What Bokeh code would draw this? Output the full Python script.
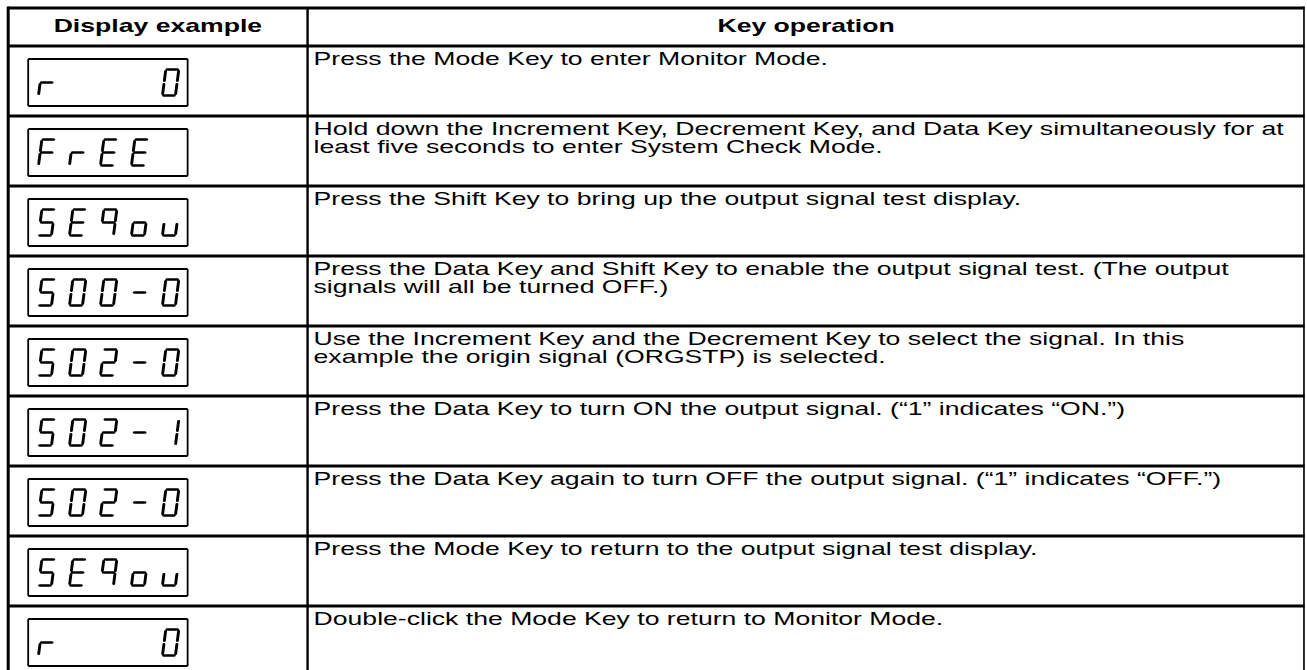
from bokeh.plotting import figure
from bokeh.models import Range1d, InlineStyleSheet
from bokeh.core.properties import value
from bokeh.embed import file_html
from bokeh.resources import INLINE

# ---------------- data ----------------
headers = ["Display example", "Key operation"]

displays = ["r   0", "FrEE ", "SE9ou", "S00-0", "S02-0", "S02-1", "S02-0", "SE9ou", "r   0"]

key_operations = [
    ["Press the Mode Key to enter Monitor Mode."],
    ["Hold down the Increment Key, Decrement Key, and Data Key simultaneously for at",
     "least five seconds to enter System Check Mode."],
    ["Press the Shift Key to bring up the output signal test display."],
    ["Press the Data Key and Shift Key to enable the output signal test. (The output",
     "signals will all be turned OFF.)"],
    ["Use the Increment Key and the Decrement Key to select the signal. In this",
     "example the origin signal (ORGSTP) is selected."],
    ["Press the Data Key to turn ON the output signal. (\u201c1\u201d indicates \u201cON.\u201d)"],
    ["Press the Data Key again to turn OFF the output signal. (\u201c1\u201d indicates \u201cOFF.\u201d)"],
    ["Press the Mode Key to return to the output signal test display."],
    ["Double-click the Mode Key to return to Monitor Mode."],
]

# seven-segment codes for the characters of the display
seg_codes = {
    "0": "abcdef", "1": "bc", "2": "abged", "5": "afgcd", "S": "afgcd",
    "9": "abcfg", "E": "afged", "F": "afeg", "r": "eg", "o": "cdeg",
    "u": "cde", "-": "g", " ": "",
}

# ---------------- layout ----------------
# The reference is a horizontally stretched scan; the figure is widened
# with a CSS scaleX so the text gets the same wide look.
STRETCH = 1.4
FIG_W = 666
VIS_W = FIG_W * STRETCH * STRETCH
X_LEFT, X_DIV, X_RIGHT = 7.5, 307, 1304.5
Y_TOP, Y_HEAD = 7.5, 45.5
ROW_H = 70
FONT = value("Liberation Sans")

p = figure(width=FIG_W, height=670, output_backend="svg", toolbar_location=None,
           x_range=Range1d(0, VIS_W), y_range=Range1d(start=670, end=0),
           min_border=0)
p.axis.visible = False
p.grid.visible = False
p.outline_line_color = None
p.background_fill_color = "white"
p.border_fill_color = "white"
p.stylesheets = [InlineStyleSheet(
    css=":host { transform: scaleX(%.4f); transform-origin: 0 0; }" % STRETCH)]

n = len(displays)
row_tops = [Y_HEAD + i * ROW_H for i in range(n)]
bottom = Y_HEAD + n * ROW_H

# table lines (horizontal)
p.segment(x0=[X_LEFT], y0=[Y_TOP], x1=[X_RIGHT], y1=[Y_TOP], line_width=3, line_color="black")
hy = [t for t in row_tops]
p.segment(x0=[X_LEFT] * len(hy), y0=hy, x1=[X_RIGHT] * len(hy), y1=hy, line_width=3, line_color="black")
# table lines (vertical) - thinner because of the horizontal stretch
p.segment(x0=[X_LEFT, X_RIGHT], y0=[Y_TOP - 1.5] * 2, x1=[X_LEFT, X_RIGHT], y1=[bottom] * 2,
          line_width=3.0 / STRETCH, line_color="black")
p.segment(x0=[X_DIV], y0=[Y_TOP], x1=[X_DIV], y1=[bottom], line_width=2.4 / STRETCH, line_color="black")

# header texts
p.text(x=[(X_LEFT + X_DIV) / 2, (X_DIV + X_RIGHT) / 2], y=[24.5, 24.5], text=headers,
       text_font=FONT, text_font_size="19px", text_font_style="bold",
       text_align="center", text_baseline="alphabetic", text_color="black")

# key operation texts
tx, ty, tt = [], [], []
for top, lines in zip(row_tops, key_operations):
    for j, line in enumerate(lines):
        tx.append(313)
        ty.append(top + 12.5 + 18 * j)
        tt.append(line)
p.text(x=tx, y=ty, text=tt, text_font=FONT, text_font_size="19px",
       text_align="left", text_baseline="alphabetic", text_color="black")

# display boxes
BOX_L, BOX_R = 27.5, 187
hx0, hy0, hx1 = [], [], []
vx0, vy0, vy1 = [], [], []
for top in row_tops:
    yt, yb = top + 13, top + 60
    hx0 += [BOX_L, BOX_L]
    hx1 += [BOX_R, BOX_R]
    hy0 += [yt, yb]
    vx0 += [BOX_L, BOX_R]
    vy0 += [yt, yt]
    vy1 += [yb, yb]
p.segment(x0=hx0, y0=hy0, x1=hx1, y1=hy0, line_width=1.8, line_color="black")
p.segment(x0=vx0, y0=vy0, x1=vx0, y1=vy1, line_width=1.8 / STRETCH, line_color="black")

# seven-segment digits
W, H, G, SL = 13, 26, 1.6, 0.13
seg_def = {
    "a": ((0, H), (W, H)), "b": ((W, H), (W, H / 2)), "c": ((W, H / 2), (W, 0)),
    "d": ((0, 0), (W, 0)), "e": ((0, H / 2), (0, 0)), "f": ((0, H), (0, H / 2)),
    "g": ((0, H / 2), (W, H / 2)),
}
hxs, hys, vxs, vys = [], [], [], []
for top, disp in zip(row_tops, displays):
    cy = top + 36.5
    for k, ch in enumerate(disp):
        cx = 46 + 31 * k
        for s in seg_codes[ch]:
            (ax, ay), (bx, by) = seg_def[s]
            dx, dy = bx - ax, by - ay
            L = (dx * dx + dy * dy) ** 0.5
            ux, uy = dx / L, dy / L
            pts = [(ax + ux * G, ay + uy * G), (bx - ux * G, by - uy * G)]
            xs = [cx - W / 2 + px + SL * (py - H / 2) for px, py in pts]
            ys = [cy + H / 2 - py for px, py in pts]
            if s in "adg":
                hxs.append(xs); hys.append(ys)
            else:
                vxs.append(xs); vys.append(ys)
p.multi_line(xs=hxs, ys=hys, line_width=2.7, line_color="black", line_cap="round")
p.multi_line(xs=vxs, ys=vys, line_width=2.9 / STRETCH, line_color="black", line_cap="round")

open("out.html", "w").write(file_html(p, INLINE))
